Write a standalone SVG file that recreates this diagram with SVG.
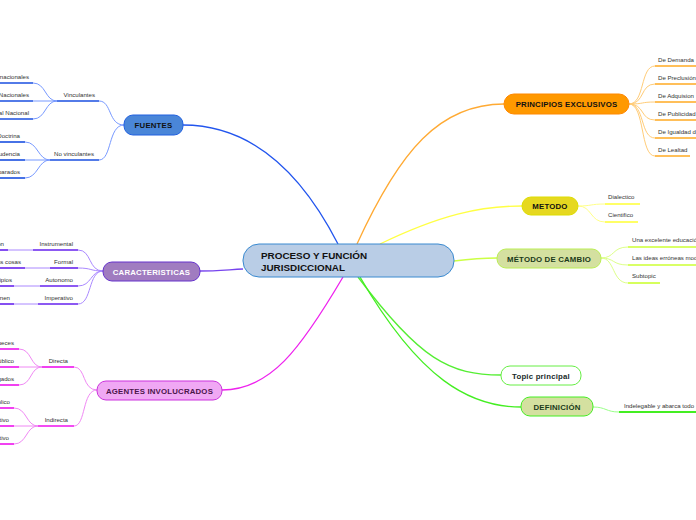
<svg xmlns="http://www.w3.org/2000/svg" width="696" height="520" viewBox="0 0 696 520">
<style>
text{font-family:"Liberation Sans",Arial,sans-serif}
.t{font-size:6.1px;fill:#333}
.n{font-size:7.8px;font-weight:bold;text-anchor:middle;letter-spacing:0.2px}
.main{fill:none;stroke-width:1.3}
</style>
<rect width="696" height="520" fill="#fff"/>
<g id="connectors">
  <path class="main" stroke="#2255ee" d="M338,244 C300,170 250,125 183,125"/>
  <path class="main" stroke="#7744ee" d="M243,269 C225,270 215,271 200,271"/>
  <path class="main" stroke="#ee22ee" d="M343,277 C300,350 270,390 222,390"/>
  <path class="main" stroke="#ffaa33" d="M357,244 C400,150 440,104 504,104"/>
  <path class="main" stroke="#ffff44" d="M380,244 C440,215 480,206 522,206"/>
  <path class="main" stroke="#ccff44" d="M454,261 C470,259 480,258 497,258"/>
  <path class="main" stroke="#55ee33" d="M358,277 C420,360 450,375 501,375"/>
  <path class="main" stroke="#44ee22" d="M360,277 C420,380 470,407 521,407"/>
  <g stroke="#7799ff" stroke-width="1" fill="none">
    <path d="M124,125 C108,125 112,101 99,101"/>
    <path d="M124,125 C108,125 112,160 99,160"/>
    <path d="M57,101 C45,101 46,83 33,83"/>
    <path d="M57,101 L33,101"/>
    <path d="M57,101 C45,101 46,119 33,119"/>
    <path d="M50,160 C38,160 38,142 25,142"/>
    <path d="M50,160 L25,160"/>
    <path d="M50,160 C38,160 38,178 25,178"/>
  </g>
  <g stroke="#1a4fe0" stroke-width="1.6" fill="none">
    <path d="M57,101 H99"/><path d="M50,160 H99"/>
    <path d="M0,83 H33"/><path d="M0,101 H33"/><path d="M0,119 H33"/>
    <path d="M0,142 H25"/><path d="M0,160 H25"/><path d="M0,178 H25"/>
  </g>
  <g stroke="#aa88ff" stroke-width="1" fill="none">
    <path d="M103,271 C88,271 92,250 78,250"/>
    <path d="M103,271 C90,271 92,268 78,268"/>
    <path d="M103,271 C90,271 92,286 78,286"/>
    <path d="M103,271 C88,271 92,304 78,304"/>
    <path d="M33,250 L8,250"/>
    <path d="M50,268 L25,268"/>
    <path d="M40,286 L14,286"/>
    <path d="M38,304 L14,304"/>
  </g>
  <g stroke="#6622ee" stroke-width="1.6" fill="none">
    <path d="M33,250 H78"/><path d="M50,268 H78"/><path d="M40,286 H78"/><path d="M38,304 H78"/>
    <path d="M0,250 H8"/><path d="M0,268 H25"/><path d="M0,286 H14"/><path d="M0,304 H14"/>
  </g>
  <g stroke="#f088f4" stroke-width="1" fill="none">
    <path d="M97,390 C82,390 86,367 74,367"/>
    <path d="M97,390 C82,390 86,426 74,426"/>
    <path d="M42,367 C30,367 32,349 19,349"/>
    <path d="M42,367 L19,367"/>
    <path d="M42,367 C30,367 32,385 19,385"/>
    <path d="M38,426 C26,426 27,408 14,408"/>
    <path d="M38,426 L14,426"/>
    <path d="M38,426 C26,426 27,444 14,444"/>
  </g>
  <g stroke="#ee11ee" stroke-width="1.6" fill="none">
    <path d="M42,367 H74"/><path d="M38,426 H74"/>
    <path d="M0,349 H19"/><path d="M0,367 H19"/><path d="M0,385 H19"/>
    <path d="M0,408 H14"/><path d="M0,426 H14"/><path d="M0,444 H14"/>
  </g>
  <g stroke="#ffcc77" stroke-width="1" fill="none">
    <path d="M629,104 C645,104 640,66 655,66"/>
    <path d="M629,104 C645,104 640,84 655,84"/>
    <path d="M629,104 C645,104 640,102 655,102"/>
    <path d="M629,104 C645,104 640,120 655,120"/>
    <path d="M629,104 C645,104 640,138 655,138"/>
    <path d="M629,104 C645,104 640,156 655,156"/>
  </g>
  <g stroke="#ffaa22" stroke-width="1.6" fill="none">
    <path d="M655,66 H696"/><path d="M655,84 H696"/><path d="M655,102 H696"/>
    <path d="M655,120 H696"/><path d="M655,138 H696"/><path d="M655,156 H690"/>
  </g>
  <g stroke="#ffff88" stroke-width="1" fill="none">
    <path d="M578,206 C592,206 590,204 605,204"/>
    <path d="M578,206 C592,206 590,222 605,222"/>
  </g>
  <g stroke="#ffff33" stroke-width="1.6" fill="none">
    <path d="M605,204 H640"/><path d="M605,222 H638"/>
  </g>
  <g stroke="#ddff88" stroke-width="1" fill="none">
    <path d="M601,258 C615,258 612,247 628,247"/>
    <path d="M601,258 C615,258 612,265 628,265"/>
    <path d="M601,258 C615,258 612,283 628,283"/>
  </g>
  <g stroke="#ccff33" stroke-width="1.6" fill="none">
    <path d="M628,247 H696"/><path d="M628,265 H696"/><path d="M628,283 H660"/>
  </g>
  <path d="M593,407 C606,407 606,412 619,412" stroke="#99ff88" stroke-width="1" fill="none"/>
  <path d="M619,412 H696" stroke="#44ee22" stroke-width="1.8" fill="none"/>
</g>

<g id="center">
  <rect x="243" y="244" width="211" height="33" rx="16" fill="#b9cde6" stroke="#3a8ad0" stroke-width="1"/>
  <text x="261" y="259" style="font-size:9.9px;font-weight:bold;fill:#111">PROCESO Y FUNCIÓN</text>
  <text x="261" y="270.5" style="font-size:9.9px;font-weight:bold;fill:#111">JURISDICCIONAL</text>
</g>

<g id="fuentes">
  <rect x="124" y="115" width="59" height="20" rx="9" fill="#4a86d8" stroke="#2060e0" stroke-width="1"/>
  <text class="n" x="153.5" y="128" fill="#111">FUENTES</text>
</g>
<g id="vinculantes"><text class="t" x="95" y="97" text-anchor="end">Vinculantes</text></g>
<g id="v1"><text class="t" x="29" y="79" text-anchor="end">Tratados Internacionales</text></g>
<g id="v2"><text class="t" x="29" y="97" text-anchor="end">Leyes Nacionales</text></g>
<g id="v3"><text class="t" x="29" y="115" text-anchor="end">Constitucional Nacional</text></g>
<g id="novinculantes"><text class="t" x="94" y="156" text-anchor="end">No vinculantes</text></g>
<g id="nv1"><text class="t" x="20" y="138" text-anchor="end">Doctrina</text></g>
<g id="nv2"><text class="t" x="20" y="156" text-anchor="end">Jurisprudencia</text></g>
<g id="nv3"><text class="t" x="20" y="174" text-anchor="end">Comparados</text></g>

<g id="caracteristicas">
  <rect x="103" y="262" width="97" height="19" rx="9" fill="#a07cc0" stroke="#6633cc" stroke-width="1"/>
  <text class="n" x="151.5" y="274.5" fill="#fff">CARACTERISTICAS</text>
</g>
<g id="c1"><text class="t" x="73" y="246" text-anchor="end">Instrumental</text><text class="t" x="4" y="246" text-anchor="end">Función</text></g>
<g id="c2"><text class="t" x="73" y="264" text-anchor="end">Formal</text><text class="t" x="21" y="264" text-anchor="end">Las cosas</text></g>
<g id="c3"><text class="t" x="73" y="282" text-anchor="end">Autonomo</text><text class="t" x="12" y="282" text-anchor="end">Principios</text></g>
<g id="c4"><text class="t" x="73" y="300" text-anchor="end">Imperativo</text><text class="t" x="10" y="300" text-anchor="end">Se imponen</text></g>

<g id="agentes">
  <rect x="97" y="381" width="125" height="19" rx="9" fill="#f0a8f4" stroke="#cc33dd" stroke-width="1"/>
  <text class="n" x="159.5" y="393.5" fill="#4a154a">AGENTES INVOLUCRADOS</text>
</g>
<g id="directa"><text class="t" x="68" y="363" text-anchor="end">Directa</text></g>
<g id="d1"><text class="t" x="14" y="345" text-anchor="end">Jueces</text></g>
<g id="d2"><text class="t" x="14" y="363" text-anchor="end">Ministerio Público</text></g>
<g id="d3"><text class="t" x="14" y="381" text-anchor="end">Abogados</text></g>
<g id="indirecta"><text class="t" x="68" y="422" text-anchor="end">Indirecta</text></g>
<g id="i1"><text class="t" x="10" y="404" text-anchor="end">Público</text></g>
<g id="i2"><text class="t" x="9" y="422" text-anchor="end">Legislativo</text></g>
<g id="i3"><text class="t" x="9" y="440" text-anchor="end">Ejecutivo</text></g>

<g id="principios">
  <rect x="504" y="94" width="125" height="20" rx="10" fill="#ff9900" stroke="#ff8800" stroke-width="1"/>
  <text class="n" x="566.5" y="107" fill="#111">PRINCIPIOS EXCLUSIVOS</text>
</g>
<g id="p1"><text class="t" x="658" y="62">De Demanda</text></g>
<g id="p2"><text class="t" x="658" y="80">De Preclusión</text></g>
<g id="p3"><text class="t" x="658" y="98">De Adquision</text></g>
<g id="p4"><text class="t" x="658" y="116">De Publicidad</text></g>
<g id="p5"><text class="t" x="658" y="134">De Igualdad de</text></g>
<g id="p6"><text class="t" x="658" y="152">De Lealtad</text></g>

<g id="metodo">
  <rect x="522" y="197" width="56" height="18" rx="9" fill="#e6d820" stroke="#dddd00" stroke-width="1"/>
  <text class="n" x="550" y="209" fill="#111">METODO</text>
</g>
<g id="m1"><text class="t" x="608" y="199">Dialectico</text></g>
<g id="m2"><text class="t" x="608" y="217">Cientifico</text></g>

<g id="metodocambio">
  <rect x="497" y="249" width="104" height="19" rx="9" fill="#d4e0a0" stroke="#bbee55" stroke-width="1"/>
  <text class="n" x="549" y="261.5" fill="#1a3a1a">MÉTODO DE CAMBIO</text>
</g>
<g id="mc1"><text class="t" x="632" y="242">Una excelente educación</text></g>
<g id="mc2"><text class="t" x="632" y="260">Las ideas erróneas modifican</text></g>
<g id="mc3"><text class="t" x="632" y="278">Subtopic</text></g>

<g id="topic">
  <rect x="501" y="366" width="80" height="19" rx="9" fill="#fff" stroke="#66ee44" stroke-width="1"/>
  <text class="n" x="541" y="378.5" fill="#1a2a2a">Topic principal</text>
</g>

<g id="definicion">
  <rect x="521" y="397" width="72" height="19" rx="9" fill="#d4e0a0" stroke="#44ee22" stroke-width="1"/>
  <text class="n" x="557" y="409.5" fill="#1a3a1a">DEFINICIÓN</text>
</g>
<g id="def1"><text class="t" x="624" y="408">Indelegable y abarca todo</text></g>
</svg>
